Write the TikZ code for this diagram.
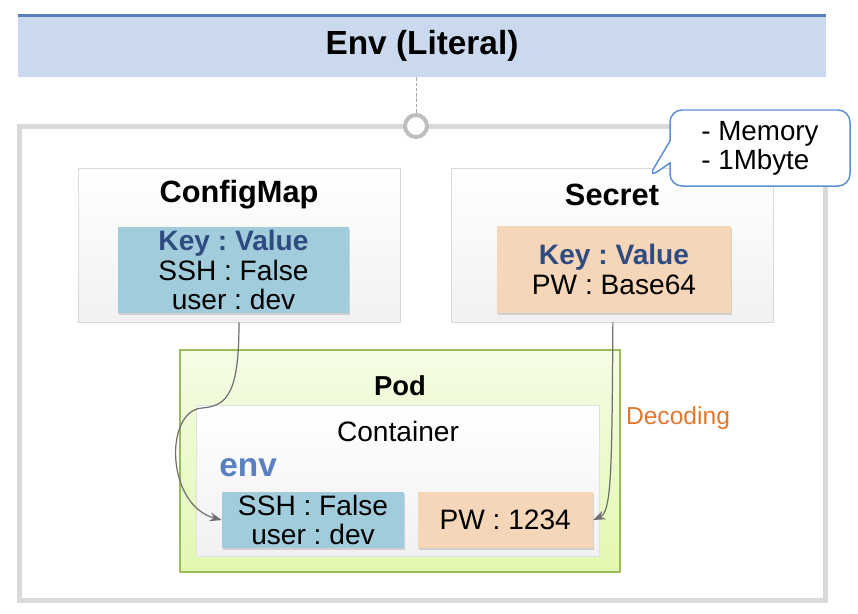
\documentclass[tikz,border=0pt]{standalone}
\usepackage{fontspec}
\setmainfont{Liberation Sans}
\frenchspacing
\usetikzlibrary{positioning,shapes.callouts,shadows,arrows.meta}
\definecolor{ttlfill}{HTML}{CBD9EF}
\definecolor{ttlline}{HTML}{5B7FBB}
\definecolor{framegray}{HTML}{DADADA}
\definecolor{hubgray}{HTML}{BEBEBE}
\definecolor{objedge}{HTML}{D9D9D9}
\definecolor{objfill}{HTML}{F1F1F1}
\definecolor{kvblue}{HTML}{A0CCDB}
\definecolor{kvpeach}{HTML}{F6D6B9}
\definecolor{keyblue}{HTML}{2F4B80}
\definecolor{envblue}{HTML}{5B80BF}
\definecolor{memoedge}{HTML}{5E8FD6}
\definecolor{podedge}{HTML}{9CBB5A}
\definecolor{podtop}{HTML}{F5FCE6}
\definecolor{podbot}{HTML}{E2F8B0}
\definecolor{decor}{HTML}{E0782F}
\definecolor{arrgray}{HTML}{707070}
\tikzset{
  ttl/.style={rectangle, minimum width=161.6mm, minimum height=12.6mm, fill=ttlfill, inner sep=0pt, font=\fontsize{19}{22}\selectfont\bfseries},
  frm/.style={rectangle, draw=framegray, line width=1mm, minimum width=161mm, minimum height=94.6mm},
  hub/.style={circle, draw=hubgray, fill=white, line width=0.8mm, minimum size=4.4mm, inner sep=0pt},
  obj/.style={rectangle, draw=objedge, line width=0.5pt, top color=white, bottom color=objfill, inner sep=0pt},
  kv/.style={rectangle, align=center, inner sep=0pt, font=\fontsize{16}{17}\selectfont, drop shadow={shadow xshift=0.7pt, shadow yshift=-0.9pt, opacity=0.3}},
  pod/.style={rectangle, draw=podedge, line width=0.9pt, top color=podtop, bottom color=podbot, inner sep=0pt},
  memo/.style={rectangle callout, draw=memoedge, fill=white, rounded corners=2.4mm, line width=0.85pt, minimum width=36mm, minimum height=15.2mm, callout pointer width=4.4mm, align=left, font=\fontsize{15.8}{16.6}\selectfont},
  hd/.style={inner sep=0pt, font=\fontsize{17.5}{20}\selectfont\bfseries},
  tx/.style={inner sep=0pt, font=\fontsize{16}{18}\selectfont},
  arr/.style={draw=arrgray, line width=0.7pt, -{Stealth[length=2.4mm,width=1.8mm]}},
  dl/.style={draw=black!35, line width=0.4pt, dash pattern=on 2pt off 1pt}
}
\newcommand{\kvhead}{{\color{keyblue}\bfseries Key : Value}}
\begin{document}
\begin{tikzpicture}[x=0.2mm, y=-0.2mm]
	\useasboundingbox (0,0) rectangle (858,614);
	\node[frm] (frame) at (422.5,363.5) {};
	\node[ttl] (title) at (422,45.5) {Env (Literal)};
	\draw[draw=ttlline, line width=1.7pt] ([yshift=-0.8pt]title.north west) -- ([yshift=-0.8pt]title.north east);
	\node[hub] (hub) at (416,126) {};
	\draw[dl] (title.south -| hub) -- (hub.north);
	%
	\node[obj, minimum width=64.4mm, minimum height=30.8mm] (cm) at (239,245) {};
	\node[hd] (cmname) at (239,195) {ConfigMap};
	\node[kv, fill=kvblue, minimum width=46.2mm, minimum height=17.2mm] (cmkv) at (233.5,270) {\kvhead\\SSH : False\\user : dev};
	%
	\node[obj, minimum width=64.4mm, minimum height=30.8mm, right=10.2mm of cm] (secret) {};
	\node[hd] (secname) at (612,195) {Secret};
	\node[kv, fill=kvpeach, minimum width=46.8mm, minimum height=17.4mm] (seckv) at (614,269.5) {\kvhead\\PW : Base64};
	%
	\node[memo, callout absolute pointer={(648,178)}] (memo) at (760,148) {- Memory\\- 1Mbyte};
	%
	\node[pod, minimum width=88mm, minimum height=44.4mm] (pod) at (400,461) {};
	\node[hd, font=\fontsize{15.6}{18}\selectfont\bfseries] (podname) at (400,386) {Pod};
	\node[obj, draw=objedge!80, minimum width=80.6mm, minimum height=30.2mm] (ctnr) at (397.5,480.5) {};
	\node[tx] (ctnrname) at (398,431) {Container};
	\node[hd, anchor=west, text=envblue, font=\fontsize{19}{22}\selectfont\bfseries] (env) at (219,468) {env};
	\node[kv, fill=kvblue, minimum width=36.4mm, minimum height=11.2mm] (envkv) at (313,520) {SSH : False\\user : dev};
	\node[kv, fill=kvpeach, minimum width=35mm, minimum height=11.2mm, right=2.6mm of envkv] (pw) {PW : 1234};
	\node[tx, text=decor, font=\fontsize{14}{16}\selectfont] (decode) at (678,418) {Decoding};
	%
	\draw[arr] (cm.south) .. controls (239,392) and (228,406) .. (202,408) .. controls (164,411) and (166,505) .. (envkv.west);
	\draw[arr] (secret.south) .. controls (612,480) and (611,512) .. (pw.east);
\end{tikzpicture}
\end{document}
